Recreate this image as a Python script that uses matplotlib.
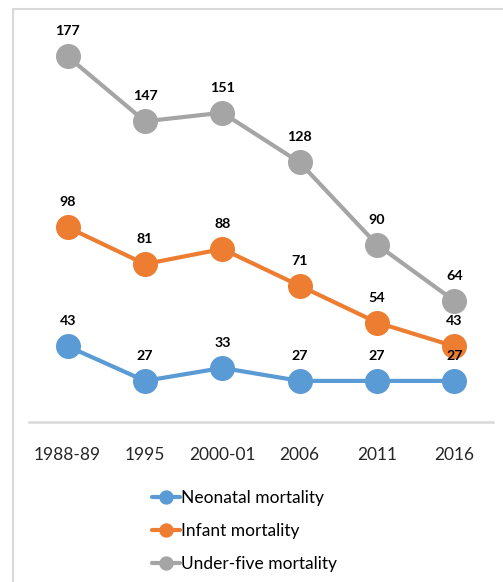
import matplotlib.pyplot as plt
from matplotlib.patches import Rectangle

plt.rcParams['font.family'] = ['Lato', 'DejaVu Sans']

years = ['1988-89', '1995', '2000-01', '2006', '2011', '2016']
neonatal = [43, 27, 33, 27, 27, 27]
infant = [98, 81, 88, 71, 54, 43]
under_five = [177, 147, 151, 128, 90, 64]

series = [
    ('Neonatal mortality', neonatal, '#5B9BD5'),
    ('Infant mortality', infant, '#ED7D31'),
    ('Under-five mortality', under_five, '#A5A5A5'),
]

fig = plt.figure(figsize=(5.03, 5.82), dpi=100)
ax = fig.add_axes([29 / 503, 1 - 422 / 582, 464 / 503, 398 / 582])

x = list(range(len(years)))
for name, vals, col in series:
    ax.plot(x, vals, color=col, lw=3, marker='o', ms=17, label=name,
            solid_capstyle='round')
    for xi, v in zip(x, vals):
        ax.annotate(str(v), (xi, v), xytext=(0, 18), textcoords='offset points',
                    ha='center', va='center', fontsize=10.3, fontweight='bold',
                    color='#000000', zorder=5)

ax.set_xlim(-0.5, len(years) - 0.5)
ax.set_ylim(8, 192)
ax.set_xticks(x)
ax.set_xticklabels(years, fontsize=12.5, color='#262626')
ax.tick_params(axis='x', length=0, pad=18)
ax.set_yticks([])
for s in ['left', 'right', 'top']:
    ax.spines[s].set_visible(False)
ax.spines['bottom'].set_color('#D9D9D9')
ax.spines['bottom'].set_linewidth(1.8)

handles, labels = ax.get_legend_handles_labels()
leg = fig.legend(handles, labels, loc='upper left', bbox_to_anchor=(136 / 503, 1 - 474 / 582),
                 frameon=False, fontsize=12.5, handlelength=1.65, handletextpad=0.02,
                 labelspacing=1.0, markerscale=0.55)

fig.patches.append(Rectangle((13 / 503, -0.1), 1.2, 1 - 9 / 582 + 0.1,
                             transform=fig.transFigure, fill=False,
                             edgecolor='#D9D9D9', lw=1.5))

fig.savefig('out.png', dpi=100)
